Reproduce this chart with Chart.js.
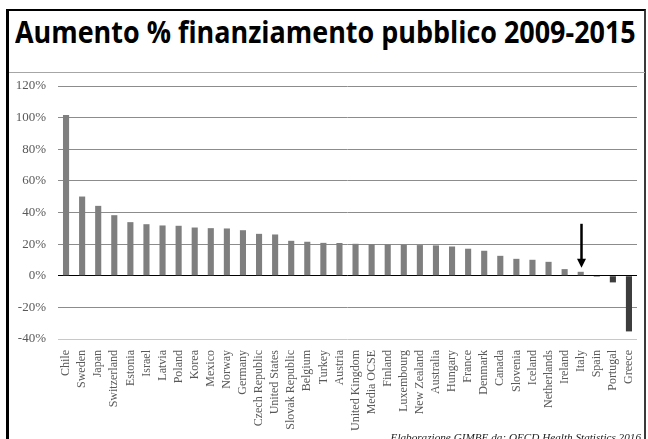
<!DOCTYPE html>
<html>
<head>
<meta charset="utf-8">
<script src="https://cdn.jsdelivr.net/npm/chart.js@4.4.0/dist/chart.umd.min.js"></script>
<style>
  html, body { margin: 0; padding: 0; background: #fff; overflow: hidden; }
  body { width: 648px; height: 439px; position: relative; }
  #frame {
    position: absolute; left: 6px; top: 9px; width: 640px; height: 450px;
    box-sizing: border-box;
    border-left: 3px solid #000; border-top: 2px solid #000; border-right: 2px solid #3a3a3a;
  }
  #sep { position: absolute; left: 9px; top: 72px; width: 636px; height: 1px; background: #a6a6a6; }
  #titolo {
    position: absolute; left: 15px; top: 17px; white-space: nowrap;
    font: bold 30px "Open Sans", sans-serif; line-height: 30px; color: #000;
    transform-origin: 0 0;
  }
  #fonte {
    position: absolute; right: 7px; top: 431px; white-space: nowrap;
    font: italic 11.2px "Liberation Serif", serif; color: #222;
  }
  #grafico { position: absolute; left: 0; top: 0; }
</style>
</head>
<body>
<div id="frame"></div>
<div id="sep"></div>
<div id="titolo">Aumento % finanziamento pubblico 2009-2015</div>
<canvas id="grafico" width="648" height="439"></canvas>
<div id="fonte">Elaborazione GIMBE da: OECD Health Statistics 2016</div>
<script>
const paesi = ['Chile', 'Sweden', 'Japan', 'Switzerland', 'Estonia', 'Israel', 'Latvia', 'Poland',
  'Korea', 'Mexico', 'Norway', 'Germany', 'Czech Republic', 'United States', 'Slovak Republic',
  'Belgium', 'Turkey', 'Austria', 'United Kingdom', 'Media OCSE', 'Finland', 'Luxembourg',
  'New Zealand', 'Australia', 'Hungary', 'France', 'Denmark', 'Canada', 'Slovenia', 'Iceland',
  'Netherlands', 'Ireland', 'Italy', 'Spain', 'Portugal', 'Greece'];

const aumento = [101.7, 50.1, 44.2, 38.3, 33.9, 32.6, 31.8, 31.6,
  30.5, 30.1, 29.9, 28.8, 26.5, 26.1, 22.1,
  21.5, 20.8, 20.7, 20.2, 20.0, 19.8, 19.6,
  19.4, 19.2, 18.5, 17.1, 15.8, 12.6, 10.7, 10.1,
  8.8, 4.2, 2.5, -0.6, -4.2, -35.2];

const tickY = [-40, -20, 0, 20, 40, 60, 80, 100, 120];
const evidenziato = 'Italy';

// adatta il titolo alla larghezza del riquadro
const titolo = document.getElementById('titolo');
titolo.style.transform = 'scaleX(' + (621 / titolo.scrollWidth) + ')';

// freccia sopra la barra evidenziata
const freccia = {
  id: 'freccia',
  afterDatasetsDraw(chart) {
    const i = paesi.indexOf(evidenziato);
    const bar = chart.getDatasetMeta(0).data[i];
    const yScale = chart.scales.y;
    const x = Math.round(bar.x) + 0.5;
    const punta = yScale.getPixelForValue(aumento[i]) - 4;
    const c = chart.ctx;
    c.save();
    c.strokeStyle = '#000';
    c.fillStyle = '#000';
    c.lineWidth = 2.5;
    c.beginPath();
    c.moveTo(x, punta - 44);
    c.lineTo(x, punta - 8);
    c.stroke();
    c.beginPath();
    c.moveTo(x - 4.5, punta - 9);
    c.lineTo(x + 4.5, punta - 9);
    c.lineTo(x, punta);
    c.closePath();
    c.fill();
    c.restore();
  }
};

new Chart(document.getElementById('grafico'), {
  type: 'bar',
  data: {
    labels: paesi,
    datasets: [{
      data: aumento,
      backgroundColor: aumento.map(v => v < 0 ? '#3d3d3d' : '#7f7f7f'),
      barPercentage: 0.38,
      categoryPercentage: 1
    }]
  },
  options: {
    responsive: false,
    animation: false,
    layout: { padding: { left: 8, right: 11, top: 86, bottom: 0 } },
    plugins: { legend: { display: false }, tooltip: { enabled: false } },
    scales: {
      x: {
        grid: { display: false },
        border: { display: false },
        afterFit: s => { s.height = 100; },
        ticks: {
          autoSkip: false, maxRotation: 90, minRotation: 90, padding: 3,
          color: '#595959', font: { family: '"Liberation Serif", serif', size: 12 }
        }
      },
      y: {
        min: -40, max: 120,
        afterFit: s => { s.width = 50; },
        afterBuildTicks: s => { s.ticks = tickY.map(v => ({ value: v })); },
        border: { display: false },
        grid: {
          drawTicks: false,
          color: c => c.tick.value === 0 ? '#000' : (c.tick.value === -40 ? '#c8c8c8' : '#8c8c8c'),
          lineWidth: 1
        },
        ticks: {
          padding: 12, color: '#595959',
          font: { family: '"Liberation Serif", serif', size: 13 },
          callback: v => v + '%'
        }
      }
    }
  },
  plugins: [freccia]
});
</script>
</body>
</html>
